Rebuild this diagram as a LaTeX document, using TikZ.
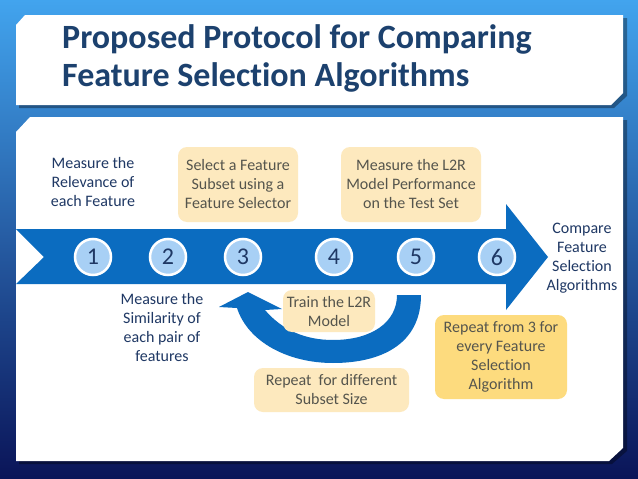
\documentclass[tikz,border=0pt]{standalone}
\usepackage{fontspec}
\setmainfont{Carlito}[Ligatures=NoCommon]

\definecolor{bandblue}{HTML}{0B6CC0}
\definecolor{stepfill}{HTML}{A8D0F5}
\definecolor{navytext}{HTML}{1F3864}
\definecolor{titletext}{HTML}{1C416E}
\definecolor{paleyellow}{HTML}{FDE9BE}
\definecolor{deepyellow}{HTML}{FDDB7E}
\definecolor{boxtext}{HTML}{55554D}
\definecolor{bgtop}{HTML}{42A4EE}
\definecolor{bgmid}{HTML}{1E66C2}
\definecolor{bgbot}{HTML}{0A1458}

\begin{document}
\begin{tikzpicture}[x=1pt, y=-1pt,
    stepnode/.style={circle, draw=white, line width=2.5pt, fill=stepfill, minimum size=36pt, inner sep=0pt, text=navytext, font=\fontsize{24}{24}\selectfont},
    plainlabel/.style={align=center, text=navytext, inner sep=0pt, font=\fontsize{16}{19}\selectfont},
    notebox/.style={rounded corners=9pt, fill=paleyellow, align=center, text=boxtext, inner sep=0pt, font=\fontsize{16}{19}\selectfont}]

    \useasboundingbox (0,0) rectangle (638,479);

    % Background and panels
    \shade[top color=bgtop, middle color=bgmid, bottom color=bgbot] (0,0) rectangle (638,479);
    \fill[black, opacity=.35] (28,18) -- (627,18) -- (627,96) -- (614,108) -- (19,108) -- (19,28) -- cycle;
    \fill[white] (25,15) -- (623,15) -- (623,93) -- (611,105) -- (16,105) -- (16,25) -- cycle;
    \fill[black, opacity=.35] (33,120) -- (627,120) -- (627,451) -- (612,464) -- (19,464) -- (19,135) -- cycle;
    \fill[white] (30,117) -- (623,117) -- (623,448) -- (609,461) -- (16,461) -- (16,132) -- cycle;

    % Title
    \node[anchor=base west, inner sep=0pt, text=titletext, font=\fontsize{34}{38}\selectfont\bfseries] (title1) at (62,48) {Proposed Protocol for Comparing};
    \node[anchor=base west, inner sep=0pt, text=titletext, font=\fontsize{34}{38}\selectfont\bfseries] (title2) at (62,86.5) {Feature Selection Algorithms};

    % Arrows
    \fill[bandblue] (16,229) -- (506,229) -- (506,204) -- (548,257) -- (506,310) -- (506,284) -- (16,284) -- (44,257) -- cycle;
    \fill[bandblue] (421,295) .. controls (421,345) and (380,363) .. (333,363) .. controls (288,363) and (248,342) .. (237,308) -- (219,307) -- (248,292) -- (282,309) -- (265,310) .. controls (282,330) and (305,340) .. (333,340) .. controls (372,340) and (397,322) .. (397,295) -- cycle;

    % Steps
    \node[stepnode] (s1) at (93,257) {1};
    \node[stepnode] (s2) at (168,257) {2};
    \node[stepnode] (s3) at (243,257) {3};
    \node[stepnode] (s4) at (334,257) {4};
    \node[stepnode] (s5) at (416,257) {5};
    \node[stepnode] (s6) at (497,257) {6};

    % Labels
    \node[plainlabel] (relevance) at (93,182) {Measure the\\Relevance of\\each Feature};
    \node[plainlabel] (similarity) at (162,328) {Measure the\\Similarity of\\each pair of\\features};
    \node[plainlabel] (compare) at (582,258) {Compare\\Feature\\Selection\\Algorithms};

    \node[notebox, minimum width=120pt, minimum height=75pt] (select) at (238,184.5) {Select a Feature\\Subset using a\\Feature Selector};
    \node[notebox, minimum width=140pt, minimum height=75pt] (perf) at (411,184.5) {Measure the L2R\\Model Performance\\on the Test Set};
    \node[notebox, minimum width=92pt, minimum height=42pt] (train) at (329,311) {Train the L2R\\Model};
    \node[notebox, minimum width=155pt, minimum height=44pt] (subset) at (331.5,390) {Repeat\ \ for different\\Subset Size};
    \node[notebox, fill=deepyellow, minimum width=132pt, minimum height=84pt] (algo) at (501,357) {Repeat from 3 for\\every Feature\\Selection\\Algorithm};

\end{tikzpicture}
\end{document}
